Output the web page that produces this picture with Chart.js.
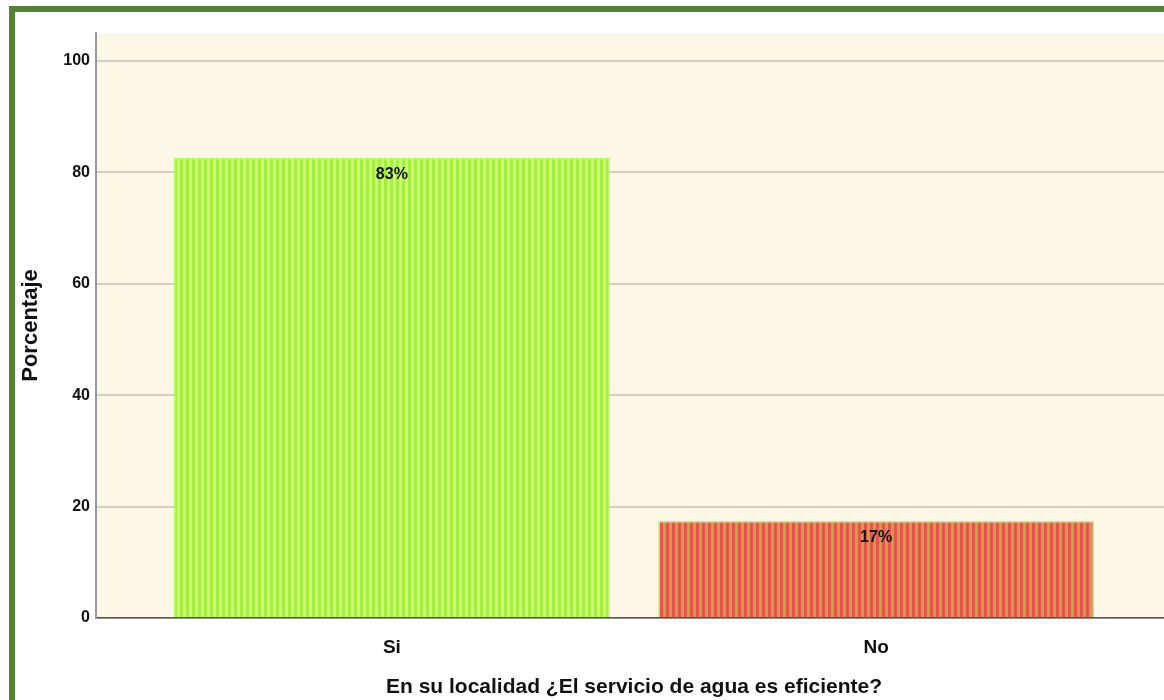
<!DOCTYPE html>
<html>
<head>
    <title>Servicio de agua</title>
    <script src="https://cdn.jsdelivr.net/npm/chart.js"></script>
    <style>
        html, body { margin: 0; padding: 0; background: #fff; overflow: hidden; width: 1164px; height: 700px; }
        #frame { position: absolute; left: 9px; top: 6px; width: 1300px; height: 900px; border-left: 6px solid #548235; border-top: 6px solid #548235; }
        #wrap { position: absolute; left: 0; top: 0; width: 1180px; height: 700px; }
    </style>
</head>
<body>
    <div id="frame"></div>
    <div id="wrap"><canvas id="waterChart" width="1180" height="700"></canvas></div>
    <script>
        // values
        const categories = ['Si', 'No'];
        const percentages = [82.6, 17.4];
        const valueLabels = ['83%', '17%'];
        const yTicks = [0, 20, 40, 60, 80, 100];

        const FONT = '"Liberation Sans", Arial, sans-serif';

        function stripes(main, light) {
            const c = document.createElement('canvas');
            c.width = 6; c.height = 4;
            const g = c.getContext('2d');
            g.fillStyle = main; g.fillRect(0, 0, 3, 4);
            g.fillStyle = light; g.fillRect(3, 0, 3, 4);
            return g.createPattern(c, 'repeat');
        }
        const fills = [stripes('#a6ee3c', '#cbf67c'), stripes('#ec5150', '#c4a244')];

        const plotBg = {
            id: 'plotBg',
            beforeDraw(chart) {
                const a = chart.chartArea, ctx = chart.ctx;
                ctx.save();
                ctx.fillStyle = '#fdf7e6';
                ctx.fillRect(a.left, a.top, a.right - a.left, a.bottom - a.top);
                ctx.restore();
            }
        };
        const barLabels = {
            id: 'barLabels',
            afterDatasetsDraw(chart) {
                const ctx = chart.ctx;
                ctx.save();
                ctx.font = 'bold 16px ' + FONT;
                ctx.fillStyle = '#111';
                ctx.textAlign = 'center';
                ctx.textBaseline = 'middle';
                chart.getDatasetMeta(0).data.forEach((bar, i) => {
                    ctx.fillText(valueLabels[i], bar.x, bar.y + 17);
                });
                ctx.restore();
            }
        };

        const ctx = document.getElementById('waterChart').getContext('2d');
        const chart = new Chart(ctx, {
            type: 'bar',
            data: {
                datasets: [{
                    data: percentages.map((v, i) => ({ x: i, y: v })),
                    backgroundColor: fills,
                    borderColor: '#b6f264',
                    borderWidth: 1.5,
                    categoryPercentage: 0.9,
                    barPercentage: 1
                }]
            },
            options: {
                responsive: false,
                animation: false,
                layout: { padding: { top: 33, right: 8, left: 18, bottom: 0 } },
                plugins: { legend: { display: false }, tooltip: { enabled: false } },
                scales: {
                    x: {
                        type: 'linear',
                        min: -0.611,
                        max: 1.611,
                        offset: false,
                        afterBuildTicks: s => { s.ticks = categories.map((c, i) => ({ value: i })); },
                        ticks: {
                            callback: v => categories[v],
                            color: '#111',
                            padding: 10,
                            font: { family: FONT, size: 19, weight: 'bold' }
                        },
                        grid: { display: false },
                        border: { color: '#555', width: 1.5 },
                        title: {
                            display: true,
                            text: 'En su localidad ¿El servicio de agua es eficiente?',
                            color: '#111',
                            padding: { top: 16, bottom: 0 },
                            font: { family: FONT, size: 21, weight: 'bold' }
                        },
                        afterFit: s => { s.height = 82; }
                    },
                    y: {
                        min: 0,
                        max: 105,
                        afterBuildTicks: s => { s.ticks = yTicks.map(v => ({ value: v })); },
                        ticks: {
                            color: '#111',
                            padding: 6,
                            font: { family: FONT, size: 16, weight: 'bold' }
                        },
                        grid: { color: '#d2cec6', lineWidth: 2, drawTicks: false },
                        border: { color: '#9a9a9a', width: 2 },
                        title: {
                            display: true,
                            text: 'Porcentaje',
                            color: '#111',
                            padding: { top: 0, bottom: 8 },
                            font: { family: FONT, size: 22, weight: 'bold' }
                        },
                        afterFit: s => { s.width = 78; }
                    }
                }
            },
            plugins: [plotBg, barLabels]
        });
    </script>
</body>
</html>
